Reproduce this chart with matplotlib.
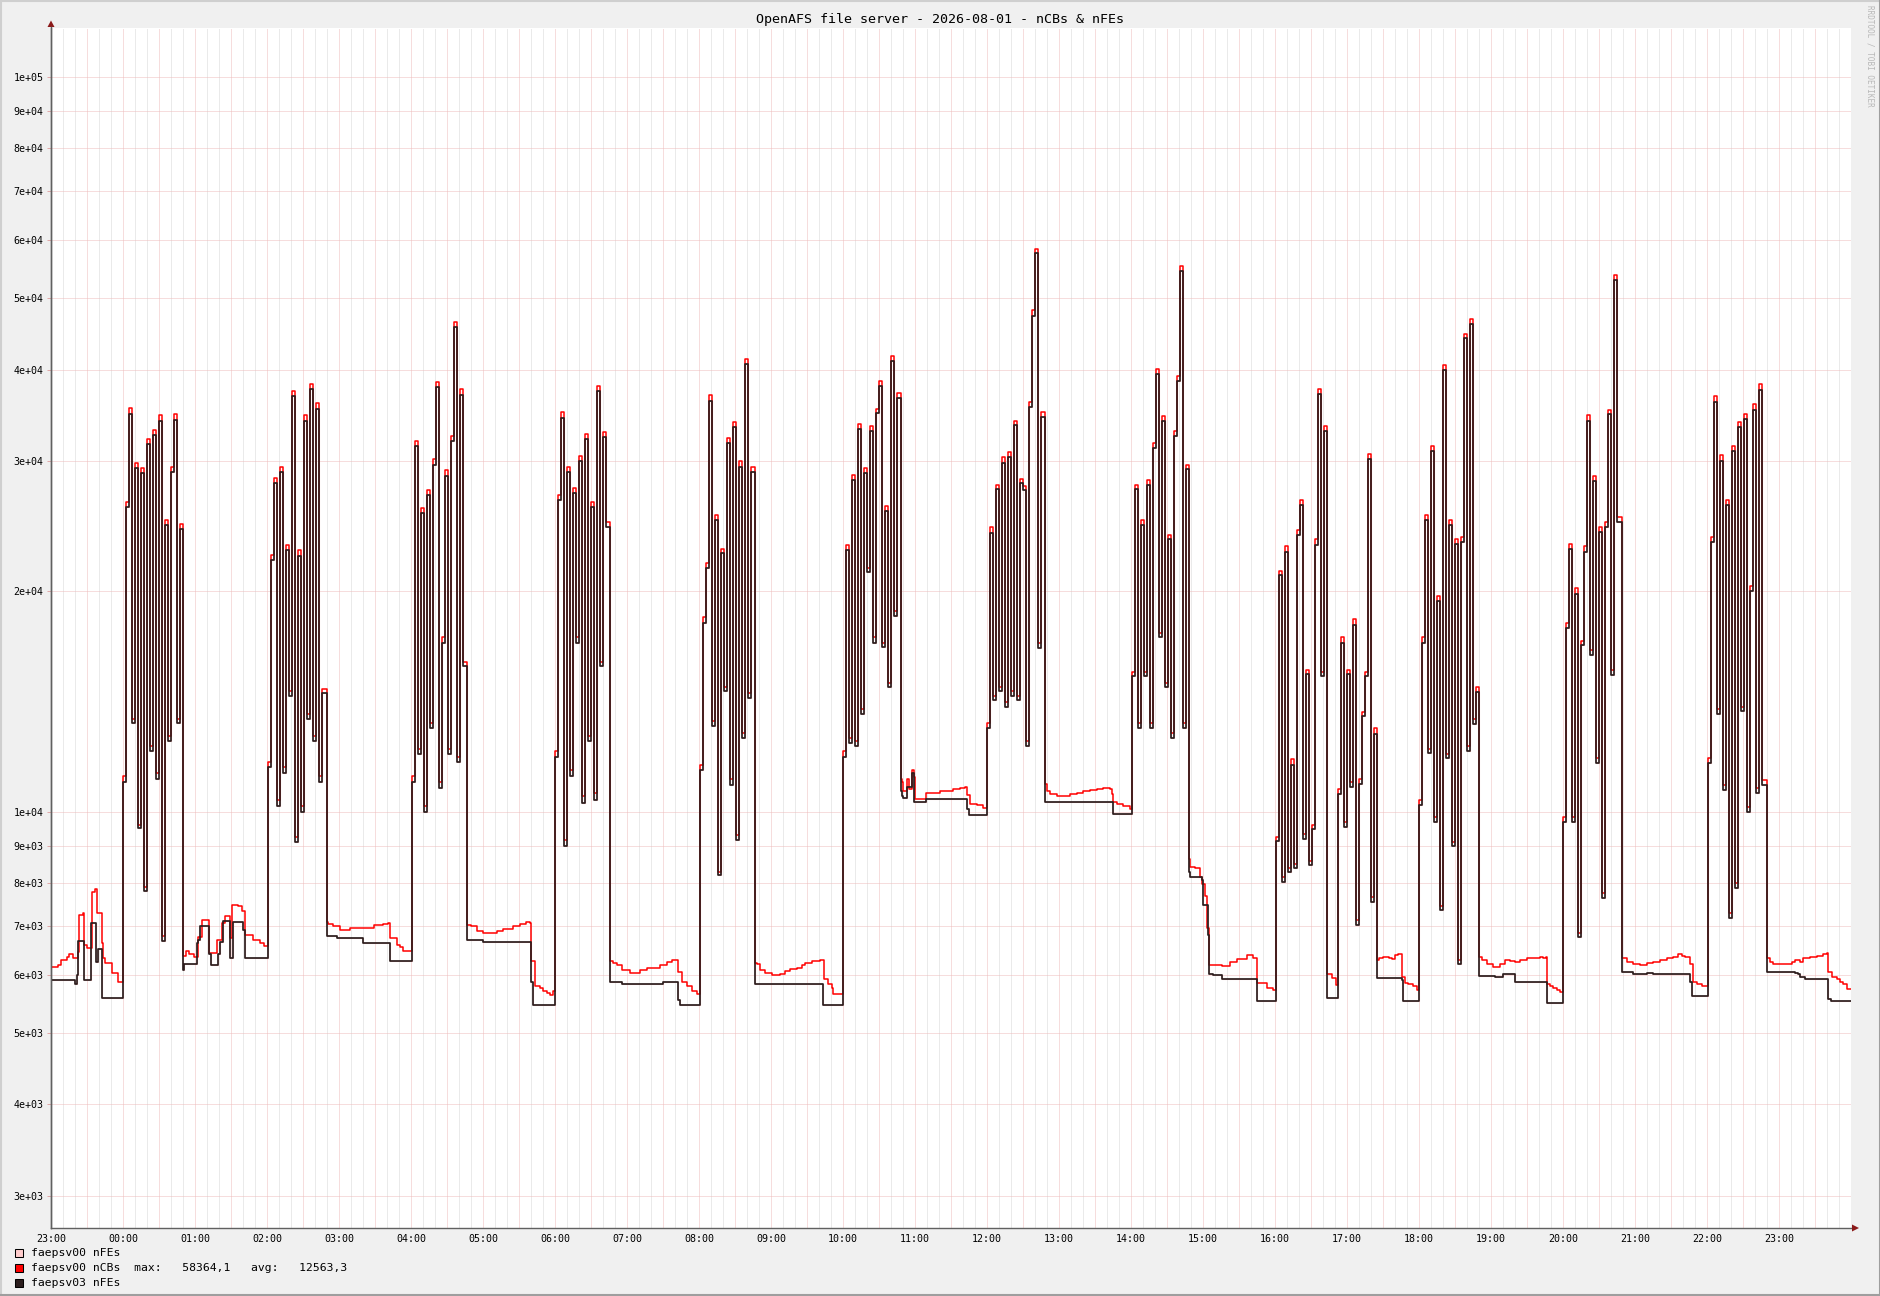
import matplotlib
matplotlib.use("Agg")
import matplotlib.pyplot as plt
import numpy as np
from matplotlib.lines import Line2D
from matplotlib.patches import Polygon, Rectangle

# time axis in hours relative to 2026-08-01 00:00 (chart starts 23:00 the day before)
STEP = 2.5 / 60  # spacing of samples inside the busy stretches

TITLE = "OpenAFS file server - 2026-08-01 - nCBs & nFEs"
LEGEND = ["faepsv00 nFEs",
          "faepsv00 nCBs  max:   58364,1   avg:   12563,3",
          "faepsv03 nFEs"]
y_ticks = [3e3, 4e3, 5e3, 6e3, 7e3, 8e3, 9e3, 1e4, 2e4, 3e4, 4e4, 5e4, 6e4, 7e4, 8e4, 9e4, 1e5]
x_hours = list(range(-1, 24))

# quiet stretches: (hour, value) knots, value holds until the next knot
fe03_quiet = [
    (-1.0, 5910), (-0.66, 5840), (-0.64, 6000), (-0.62, 6680), (-0.537, 5900), (-0.449, 7060),
    (-0.37, 6250), (-0.343, 6510), (-0.287, 5590),
    (0.838, 6100), (0.852, 6210), (1.023, 6630), (1.046, 6700), (1.069, 6990), (1.20, 6400),
    (1.217, 6200), (1.324, 6400), (1.347, 6660), (1.394, 7100), (1.486, 6330), (1.532, 7080),
    (1.671, 6900), (1.694, 6330),
    (2.838, 6790), (2.968, 6740), (3.338, 6630), (3.708, 6275),
    (4.773, 6690), (5.0, 6660), (5.2, 6645), (5.665, 5880), (5.70, 5470),
    (6.764, 5880), (6.926, 5840), (7.505, 5865), (7.713, 5550), (7.74, 5455),
    (8.778, 5840), (9.727, 5455),
    (10.80, 10680), (10.815, 10530), (10.84, 10460), (10.884, 10830), (10.96, 11300),
    (10.99, 10310), (11.15, 10410), (11.727, 10090), (11.755, 9900),
    (12.80, 10330), (13.755, 9930),
    (14.805, 8285), (14.819, 8155), (14.99, 8090), (15.005, 7475), (15.074, 6800),
    (15.088, 6020), (15.144, 6000), (15.259, 5920), (15.745, 5540),
    (16.725, 5580),
    (17.418, 5950), (17.759, 5905), (17.773, 5535),
    (18.835, 5990), (19.06, 5955), (19.125, 5970), (19.171, 6015), (19.333, 5880), (19.773, 5490),
    (20.815, 6060), (20.977, 6015), (21.162, 6035), (21.255, 6015), (21.764, 5880), (21.787, 5615),
    (22.829, 6060), (23.222, 6040), (23.27, 6015), (23.292, 5970), (23.361, 5925),
    (23.685, 5575), (23.72, 5535), (24.0, 5535),
]

cb00_quiet = [
    (-1.0, 6150), (-0.898, 6200), (-0.866, 6300), (-0.783, 6350), (-0.746, 6410), (-0.69, 6330),
    (-0.63, 6460), (-0.616, 7250), (-0.551, 7290), (-0.537, 6600), (-0.50, 6530), (-0.435, 7790),
    (-0.389, 7860), (-0.357, 7290), (-0.296, 6640), (-0.273, 6330), (-0.25, 6230),
    (-0.158, 6040), (-0.074, 5880),
    (0.838, 6360), (0.873, 6480), (0.92, 6400), (0.98, 6350), (1.046, 6770), (1.092, 7140),
    (1.20, 6420), (1.30, 6690), (1.37, 7060), (1.417, 7230), (1.486, 6730), (1.52, 7480),
    (1.60, 7440), (1.648, 7330), (1.694, 6810), (1.80, 6700), (1.90, 6640), (1.96, 6580),
    (2.838, 7090), (2.852, 7040), (2.92, 6990), (3.014, 6920), (3.153, 6960), (3.48, 7020),
    (3.616, 7040), (3.685, 7060), (3.708, 6740), (3.80, 6600), (3.85, 6550), (3.894, 6480),
    (4.773, 7020), (4.83, 6990), (4.92, 6890), (5.0, 6840), (5.19, 6890), (5.28, 6940),
    (5.42, 6990), (5.514, 7040), (5.60, 7090), (5.655, 7060), (5.665, 6275), (5.72, 5800),
    (5.79, 5756), (5.84, 5714), (5.885, 5670), (5.93, 5630), (5.97, 5714),
    (6.764, 6275), (6.81, 6230), (6.856, 6185), (6.926, 6090), (7.04, 6030), (7.18, 6090),
    (7.273, 6140), (7.458, 6185), (7.551, 6250), (7.62, 6295), (7.713, 6050), (7.76, 5880),
    (7.83, 5800), (7.90, 5714), (7.97, 5650),
    (8.778, 6230), (8.80, 6205), (8.85, 6090), (8.917, 6030), (9.01, 6000), (9.125, 6020),
    (9.194, 6070), (9.264, 6110), (9.356, 6140), (9.426, 6185), (9.472, 6230), (9.565, 6275),
    (9.68, 6295), (9.736, 5924), (9.796, 5840), (9.843, 5756), (9.866, 5655),
    (10.80, 11080), (10.815, 11000), (10.838, 10680), (10.884, 11080), (10.91, 10760),
    (10.96, 11400), (10.99, 11150), (11.0, 10410), (11.153, 10600), (11.35, 10680),
    (11.53, 10760), (11.625, 10790), (11.70, 10820), (11.727, 10540), (11.76, 10250),
    (11.86, 10210), (11.95, 10130),
    (12.80, 10920), (12.829, 10670), (12.875, 10590), (12.968, 10510), (13.153, 10590),
    (13.245, 10620), (13.338, 10670), (13.43, 10715), (13.523, 10750), (13.616, 10780),
    (13.708, 10750), (13.731, 10590), (13.755, 10330), (13.80, 10250), (13.893, 10180),
    (13.986, 10090),
    (14.805, 8620), (14.819, 8420), (14.889, 8380), (14.958, 8155), (14.99, 7970),
    (15.028, 7690), (15.051, 6960), (15.088, 6195), (15.259, 6175), (15.375, 6245),
    (15.468, 6310), (15.606, 6380), (15.699, 6335), (15.745, 5860), (15.884, 5765),
    (15.977, 5720),
    (16.725, 6020), (16.787, 5950), (16.847, 5810),
    (17.418, 6285), (17.45, 6335), (17.50, 6355), (17.58, 6335), (17.62, 6310), (17.67, 6380),
    (17.715, 6400), (17.759, 5970), (17.806, 5860), (17.85, 5830), (17.92, 5790), (17.97, 5720),
    (18.835, 6350), (18.87, 6290), (18.94, 6205), (19.03, 6160), (19.125, 6205), (19.194, 6290),
    (19.264, 6280), (19.333, 6260), (19.403, 6290), (19.495, 6320), (19.588, 6320),
    (19.68, 6350), (19.727, 6330), (19.759, 6350), (19.773, 5830), (19.82, 5790),
    (19.866, 5765), (19.912, 5720), (19.958, 5690),
    (20.815, 6330), (20.884, 6260), (20.977, 6205), (21.069, 6185), (21.162, 6240),
    (21.255, 6260), (21.347, 6290), (21.44, 6320), (21.532, 6350), (21.602, 6400),
    (21.65, 6365), (21.694, 6350), (21.764, 6205), (21.801, 5880), (21.856, 5830), (21.926, 5790),
    (22.829, 6330), (22.875, 6260), (22.921, 6205), (23.176, 6260), (23.222, 6290),
    (23.292, 6260), (23.338, 6320), (23.431, 6350), (23.523, 6365), (23.616, 6400),
    (23.662, 6430), (23.685, 6060), (23.731, 5970), (23.801, 5925), (23.847, 5880),
    (23.894, 5830), (23.94, 5750), (24.0, 5750),
]

# busy stretches: start hour and samples every STEP
burst_start = [0.0, 2.018, 4.009, 6.0, 8.014, 10.005, 12.005, 14.01, 16.014, 16.87, 18.0, 20.005, 22.018]

fe03_bursts = [
    [11000, 26000, 34800, 13200, 29400, 9500, 28900, 7800, 31700, 12100, 32600, 11100, 34100, 6680,
     24600, 12500, 29000, 34200, 13200, 24300],
    [11500, 22000, 28000, 10200, 29000, 11300, 22700, 14400, 36800, 9100, 22300, 10000, 34100, 13400,
     37700, 12500, 35400, 11000, 14500],
    [11000, 31500, 12000, 25500, 10000, 27000, 13000, 29700, 37900, 10800, 17000, 28700, 12000, 32000,
     45700, 11700, 37000, 15800],
    [11900, 26600, 34400, 9000, 29000, 11200, 27200, 17000, 30000, 10300, 32200, 12500, 26000, 10400,
     37400, 15800, 32400, 24400],
    [11400, 18100, 21500, 36300, 13100, 25000, 8200, 22500, 14600, 31800, 10900, 33400, 9150, 29500,
     12600, 40700, 14300, 29000],
    [11900, 22700, 12400, 28300, 12300, 33200, 13600, 28900, 21200, 33000, 17000, 34900, 38000, 16800,
     25700, 14800, 41100, 18500, 36600],
    [13000, 24000, 14200, 27500, 14600, 29900, 13900, 30400, 14400, 33600, 14200, 28000, 27400, 12300,
     35600, 47400, 57600, 16700, 34500],
    [15300, 27500, 13000, 24600, 15300, 27900, 13000, 31300, 39500, 17300, 34100, 14800, 23500, 12600,
     32500, 38600, 54500, 13000, 29300],
    [9130, 21000, 8030, 22600, 8280, 11600, 8390, 23800, 26200, 9200, 15400, 8460, 9480, 23100,
     37100, 15300, 33000],
    [10580, 16990, 9550, 15400, 10820, 17960, 7020, 10920, 13500, 15300, 30200, 7540, 12790],
    [10230, 17000, 24970, 12030, 30970, 9700, 19400, 7350, 39940, 11850, 24590, 8980, 23130, 6205,
     23300, 44130, 12100, 46210, 13190, 14570],
    [9700, 17800, 22770, 9700, 19830, 6750, 16870, 22590, 34090, 16360, 28240, 11660, 24030, 7640,
     24400, 34760, 15380, 52920, 24780],
    [11660, 23300, 36140, 13600, 30040, 10710, 26150, 7180, 30970, 7880, 33450, 13710, 34230, 10000,
     20000, 35300, 10630, 37550, 10880],
]

cb00_bursts = [
    [11200, 26400, 35500, 13400, 29900, 9600, 29400, 7900, 32200, 12300, 33100, 11300, 34700, 6780,
     25000, 12700, 29500, 34800, 13400, 24700],
    [11700, 22400, 28500, 10400, 29500, 11500, 23100, 14600, 37400, 9250, 22700, 10200, 34700, 13600,
     38300, 12700, 36000, 11200, 14700],
    [11200, 32000, 12200, 25900, 10200, 27400, 13200, 30200, 38500, 11000, 17300, 29200, 12200, 32500,
     46500, 11900, 37600, 16000],
    [12100, 27000, 35000, 9150, 29500, 11400, 27600, 17300, 30500, 10500, 32700, 12700, 26400, 10600,
     38000, 16000, 32900, 24800],
    [11600, 18400, 21800, 36900, 13300, 25400, 8300, 22800, 14800, 32300, 11100, 33900, 9300, 30000,
     12800, 41300, 14500, 29500],
    [12100, 23100, 12600, 28800, 12500, 33700, 13800, 29400, 21500, 33500, 17300, 35400, 38600, 17000,
     26100, 15000, 41700, 18800, 37200],
    [13200, 24400, 14400, 27900, 14800, 30400, 14100, 30900, 14600, 34100, 14400, 28400, 27800, 12500,
     36200, 48200, 58364, 17000, 35000],
    [15500, 27900, 13200, 25000, 15500, 28300, 13200, 31800, 40100, 17500, 34600, 15000, 23800, 12800,
     33000, 39200, 55300, 13200, 29700],
    [9250, 21300, 8150, 23000, 8400, 11800, 8500, 24200, 26600, 9350, 15600, 8580, 9600, 23500,
     37700, 15500, 33500],
    [10750, 17300, 9700, 15600, 11000, 18300, 7130, 11100, 13700, 15500, 30700, 7660, 13000],
    [10400, 17300, 25400, 12200, 31500, 9850, 19700, 7460, 40600, 12000, 25000, 9100, 23500, 6300,
     23700, 44800, 12300, 46900, 13400, 14800],
    [9850, 18100, 23200, 9850, 20200, 6850, 17100, 23000, 34700, 16600, 28700, 11850, 24400, 7750,
     24800, 35300, 15600, 53800, 25200],
    [11850, 23700, 36800, 13800, 30600, 10900, 26600, 7280, 31500, 8000, 34000, 13900, 34800, 10150,
     20300, 35900, 10800, 38200, 11050],
]


def build(quiet, starts, bursts):
    t = [p[0] for p in quiet]
    v = [p[1] for p in quiet]
    for t0, vals in zip(starts, bursts):
        t += [t0 + k * STEP for k in range(len(vals))]
        v += vals
    order = np.argsort(t, kind="stable")
    return np.asarray(t, dtype=float)[order], np.asarray(v, dtype=float)[order]


t03, v03 = build(fe03_quiet, burst_start, fe03_bursts)
tcb, vcb = build(cb00_quiet, burst_start, cb00_bursts)

W, H = 1881, 1296
MONO = "DejaVu Sans Mono"
YMIN, YMAX = 2716, 116700


def fx(x):
    return x / W


def fy(y):
    return 1 - y / H


fig = plt.figure(figsize=(W / 100, H / 100), dpi=100)
fig.patch.set_facecolor("#f0f0f0")

# 3d-ish frame round the image
fig.add_artist(Line2D([0, 1], [fy(1), fy(1)], transform=fig.transFigure, color="#cfcfcf", lw=1.5))
fig.add_artist(Line2D([fx(1), fx(1)], [0, 1], transform=fig.transFigure, color="#cfcfcf", lw=1.5))
fig.add_artist(Line2D([0, 1], [fy(1295), fy(1295)], transform=fig.transFigure, color="#9e9e9e", lw=1.5))
fig.add_artist(Line2D([fx(1880), fx(1880)], [0, 1], transform=fig.transFigure, color="#9e9e9e", lw=1.5))

ax = fig.add_axes([fx(51), fy(1228), 1800 / W, 1200 / H])
ax.set_facecolor("white")
ax.set_yscale("log")
ax.set_xlim(-1, 24)
ax.set_ylim(YMIN, YMAX)

# faint dotted grid: grey every 10 min, pink every 30 min and at each labelled value
minor_x = [x for x in np.arange(-1, 24.001, 1 / 6) if abs(x * 2 - round(x * 2)) > 1e-6]
major_x = np.arange(-0.5, 24.001, 0.5)
dots = [(0, (1, 1))]
ax.vlines(minor_x, YMIN, YMAX, colors="#d6d6d6", linestyles=dots, lw=0.72, zorder=0.5)
ax.vlines(major_x, YMIN, YMAX, colors="#eebcbc", linestyles=dots, lw=0.72, zorder=0.6)
ax.hlines(y_ticks, -1, 24, colors="#eebcbc", linestyles=dots, lw=0.72, zorder=0.6)

ax.step(t03, v03, where="post", color="#ffcccc", lw=0.8, zorder=2)
ax.step(tcb, vcb, where="post", color="#ff0000", lw=1.1, zorder=3)
ax.step(t03, v03, where="post", color="#2b1d1d", lw=1.25, zorder=4)

ax.set_yticks(y_ticks)
ax.set_yticklabels([f"{v:.0e}" for v in y_ticks], family=MONO, fontsize=7.2)
ax.yaxis.set_minor_locator(matplotlib.ticker.NullLocator())
ax.set_xticks(x_hours)
ax.set_xticklabels([f"{h % 24:02d}:00" for h in x_hours], family=MONO, fontsize=7.2)
ax.tick_params(axis="y", length=3, width=0.72, color="#e0a8a8", pad=2.5)
ax.tick_params(axis="x", length=0, pad=4)

for side in ["top", "right"]:
    ax.spines[side].set_visible(False)
for side in ["left", "bottom"]:
    ax.spines[side].set_color("#606060")
    ax.spines[side].set_linewidth(1.0)

# axis arrows
fig.add_artist(Polygon([(fx(47.5), fy(27)), (fx(54.5), fy(27)), (fx(51), fy(20.5))],
                       closed=True, transform=fig.transFigure, color="#8b1a1a", lw=0))
fig.add_artist(Line2D([fx(51), fx(51)], [fy(1228), fy(27)], transform=fig.transFigure,
                      color="#606060", lw=1.0))
fig.add_artist(Polygon([(fx(1852), fy(1224.5)), (fx(1852), fy(1231.5)), (fx(1859), fy(1228))],
                       closed=True, transform=fig.transFigure, color="#8b1a1a", lw=0))

fig.text(0.5, fy(19), TITLE, ha="center", va="center", family=MONO, fontsize=9.6, color="#000000")
fig.text(fx(1870), fy(5), "RRDTOOL / TOBI OETIKER", rotation=270, ha="center", va="top",
         family=MONO, fontsize=5.5, color="#b8b8b8")

legend_colors = ["#ffcccc", "#ff0000", "#2b1d1d"]
legend_rows = [1253.3, 1268, 1282.7]
for label, col, yc in zip(LEGEND, legend_colors, legend_rows):
    fig.add_artist(Rectangle((fx(15), fy(yc + 4)), 8 / W, 8 / H, transform=fig.transFigure,
                             facecolor=col, edgecolor="#000000", lw=0.75))
    fig.text(fx(31), fy(yc), label, ha="left", va="center", family=MONO, fontsize=8.2,
             color="#000000")

fig.savefig("out.png", dpi=100, facecolor=fig.get_facecolor())
